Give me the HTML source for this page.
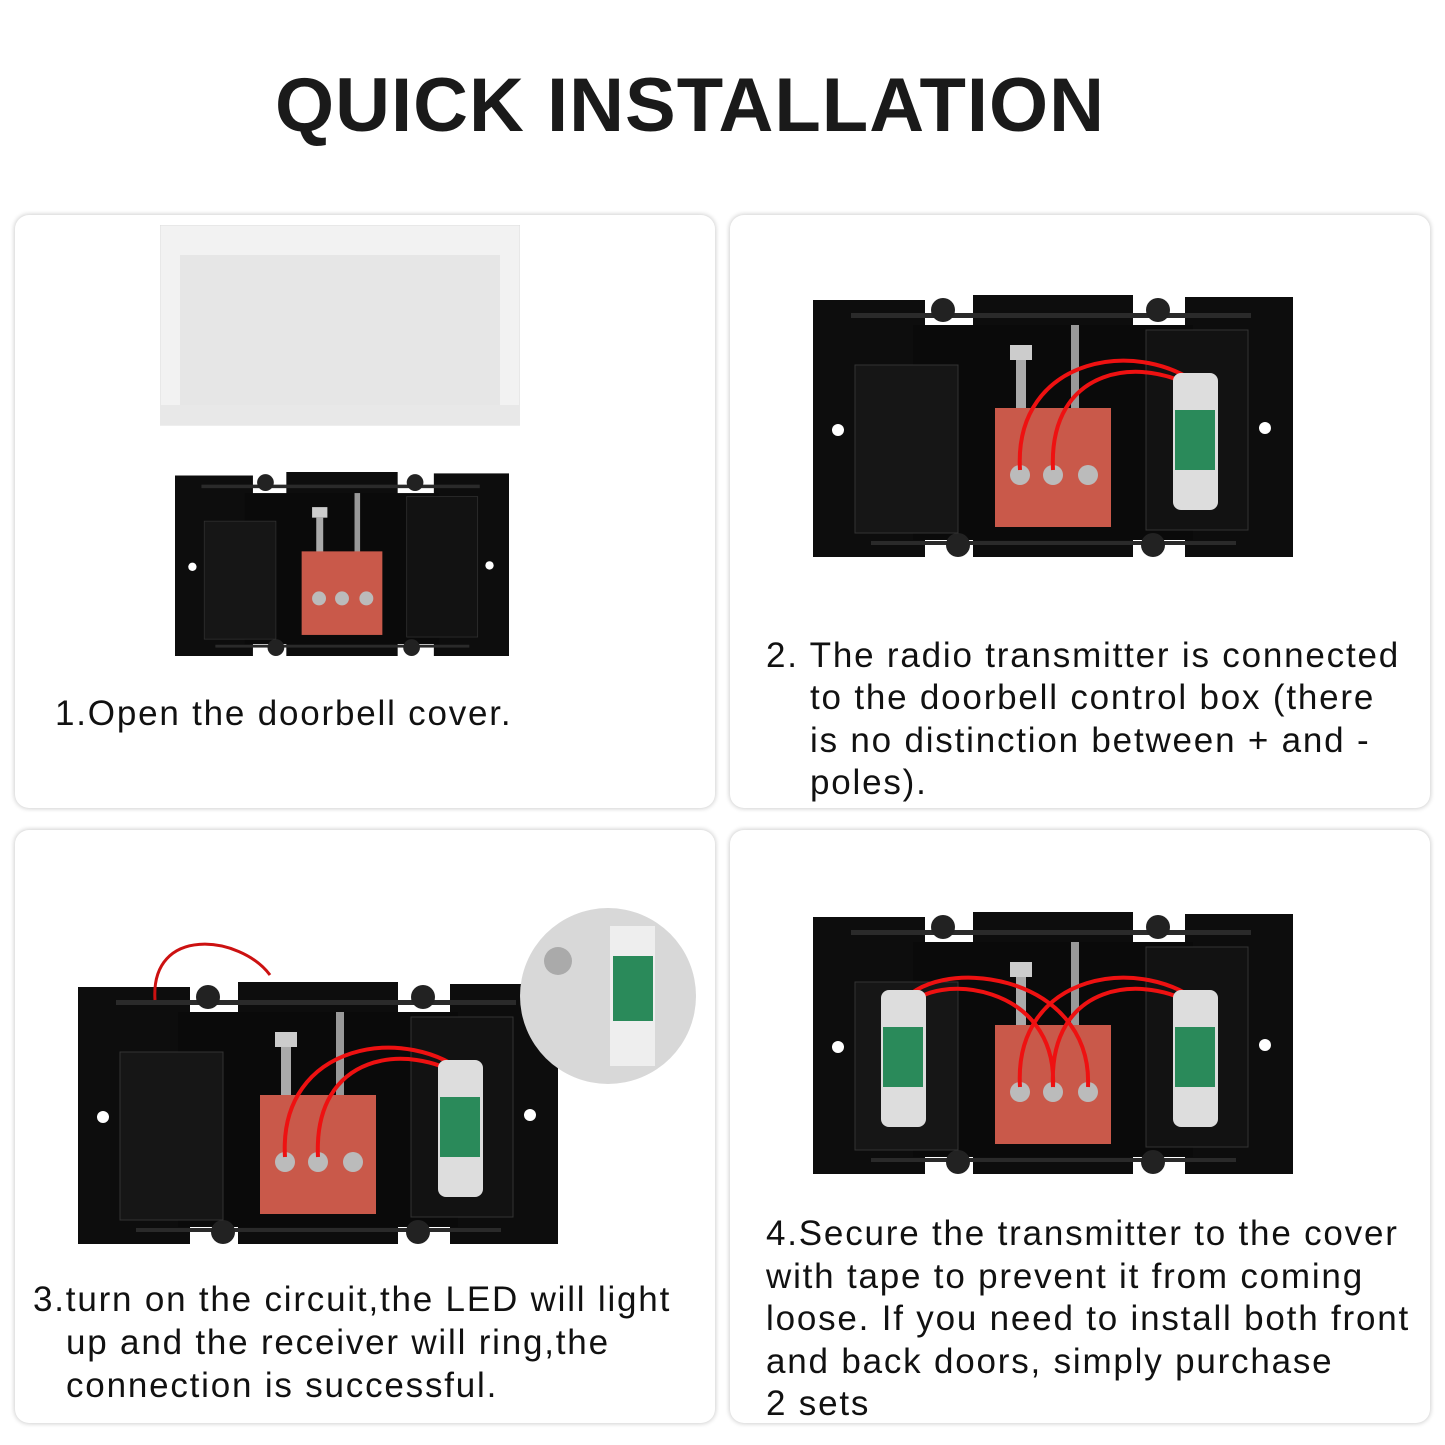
<!DOCTYPE html>
<html><head><meta charset="utf-8"><style>
body{margin:0;width:1445px;height:1445px;background:#fff;position:relative;overflow:hidden;font-family:"Liberation Sans",sans-serif}
.t{position:absolute;left:0;width:1380px;text-align:center;top:62px;font-size:76px;font-weight:900;color:#1a1a1a;letter-spacing:1px}
.c{position:absolute;background:#fff;border-radius:14px;box-shadow:0 0 4px 1px rgba(0,0,0,.18)}
.x{position:absolute;font-size:35px;color:#111;line-height:42.5px;white-space:nowrap;letter-spacing:1.8px}
svg{position:absolute}
</style></head><body>
<svg width="0" height="0" style="position:absolute">
<defs>
<g id="box">
<rect x="0" y="5" width="112" height="257" fill="#0d0d0d"/>
<rect x="160" y="0" width="160" height="262" fill="#0d0d0d"/>
<rect x="372" y="2" width="108" height="260" fill="#0d0d0d"/>
<rect x="100" y="30" width="280" height="215" fill="#0a0a0a"/>
<rect x="38" y="18" width="400" height="5" fill="#2a2a2a"/>
<rect x="58" y="246" width="365" height="4" fill="#2a2a2a"/>
<circle cx="130" cy="15" r="12" fill="#222"/><circle cx="345" cy="15" r="12" fill="#222"/>
<circle cx="145" cy="250" r="12" fill="#222"/><circle cx="340" cy="250" r="12" fill="#222"/>
<rect x="42" y="70" width="103" height="168" fill="#161616" stroke="#333"/>
<rect x="333" y="35" width="102" height="200" fill="#121212" stroke="#333"/>
<circle cx="25" cy="135" r="6" fill="#fff"/><circle cx="452" cy="133" r="6" fill="#fff"/>
<rect x="197" y="50" width="22" height="15" fill="#ccc"/><rect x="203" y="65" width="10" height="50" fill="#aaa"/>
<rect x="258" y="30" width="8" height="85" fill="#999"/>
<rect x="182" y="113" width="116" height="119" fill="#c9594a"/>
<circle cx="207" cy="180" r="10" fill="#bbb"/><circle cx="240" cy="180" r="10" fill="#bbb"/><circle cx="275" cy="180" r="10" fill="#bbb"/>
</g>
</defs></svg>
<div class="t">QUICK INSTALLATION</div>
<div class="c" style="left:15px;top:215px;width:700px;height:593px"></div>
<div class="c" style="left:730px;top:215px;width:700px;height:593px"></div>
<div class="c" style="left:15px;top:830px;width:700px;height:593px"></div>
<div class="c" style="left:730px;top:830px;width:700px;height:593px"></div>

<svg style="left:160px;top:225px" width="360" height="202"><rect x="0" y="0" width="360" height="200" fill="#f2f2f2" stroke="#ddd"/><rect x="20" y="30" width="320" height="165" fill="#e6e6e6"/><rect x="0" y="180" width="360" height="20" fill="#e8e8e8"/></svg>
<svg style="left:175px;top:472px" width="334" height="184" viewBox="0 0 480 262" preserveAspectRatio="none"><use href="#box"/></svg>
<svg style="left:813px;top:295px" width="480" height="262" viewBox="0 0 480 262"><use href="#box"/>
<path d="M207 175 C200 60 330 40 392 95 M240 175 C235 70 330 60 385 95" stroke="#e11" stroke-width="4" fill="none"/><rect x="360" y="78" width="45" height="137" rx="8" fill="#ddd"/><rect x="362" y="115" width="40" height="60" fill="#2a8a5a"/></svg>
<svg style="left:78px;top:982px" width="480" height="262" viewBox="0 0 480 262"><use href="#box"/>
<path d="M207 175 C200 60 330 40 392 95 M240 175 C235 70 330 60 385 95" stroke="#e11" stroke-width="4" fill="none"/><rect x="360" y="78" width="45" height="137" rx="8" fill="#ddd"/><rect x="362" y="115" width="40" height="60" fill="#2a8a5a"/></svg>
<svg style="left:150px;top:925px" width="130" height="80"><path d="M5 75 C0 0 90 10 120 50" stroke="#c11" stroke-width="3" fill="none"/></svg>
<svg style="left:518px;top:906px" width="180" height="180"><circle cx="90" cy="90" r="88" fill="#d8d8d8"/><rect x="92" y="20" width="45" height="140" fill="#eee"/><rect x="95" y="50" width="40" height="65" fill="#2a8a5a"/><circle cx="40" cy="55" r="14" fill="#aaa"/></svg>
<svg style="left:813px;top:912px" width="480" height="262" viewBox="0 0 480 262"><use href="#box"/>
<path d="M207 175 C200 60 330 40 392 95 M240 175 C235 70 330 60 385 95 M275 175 C280 60 120 40 85 95 M240 175 C245 70 120 60 95 95" stroke="#e11" stroke-width="4" fill="none"/><rect x="360" y="78" width="45" height="137" rx="8" fill="#ddd"/><rect x="362" y="115" width="40" height="60" fill="#2a8a5a"/><rect x="68" y="78" width="45" height="137" rx="8" fill="#ddd"/><rect x="70" y="115" width="40" height="60" fill="#2a8a5a"/></svg>

<div class="x" style="left:55px;top:693px">1.Open the doorbell cover.</div>
<div class="x" style="left:766px;top:635px">2. The radio transmitter is connected</div>
<div class="x" style="left:810px;top:677px">to the doorbell control box (there<br>is no distinction between + and -<br>poles).</div>
<div class="x" style="left:33px;top:1279px">3.turn on the circuit,the LED will light</div>
<div class="x" style="left:66px;top:1322px">up and the receiver will ring,the<br>connection is successful.</div>
<div class="x" style="left:766px;top:1213px">4.Secure the transmitter to the cover<br>with tape to prevent it from coming<br>loose. If you need to install both front<br>and back doors, simply purchase<br>2 sets</div>
</body></html>
